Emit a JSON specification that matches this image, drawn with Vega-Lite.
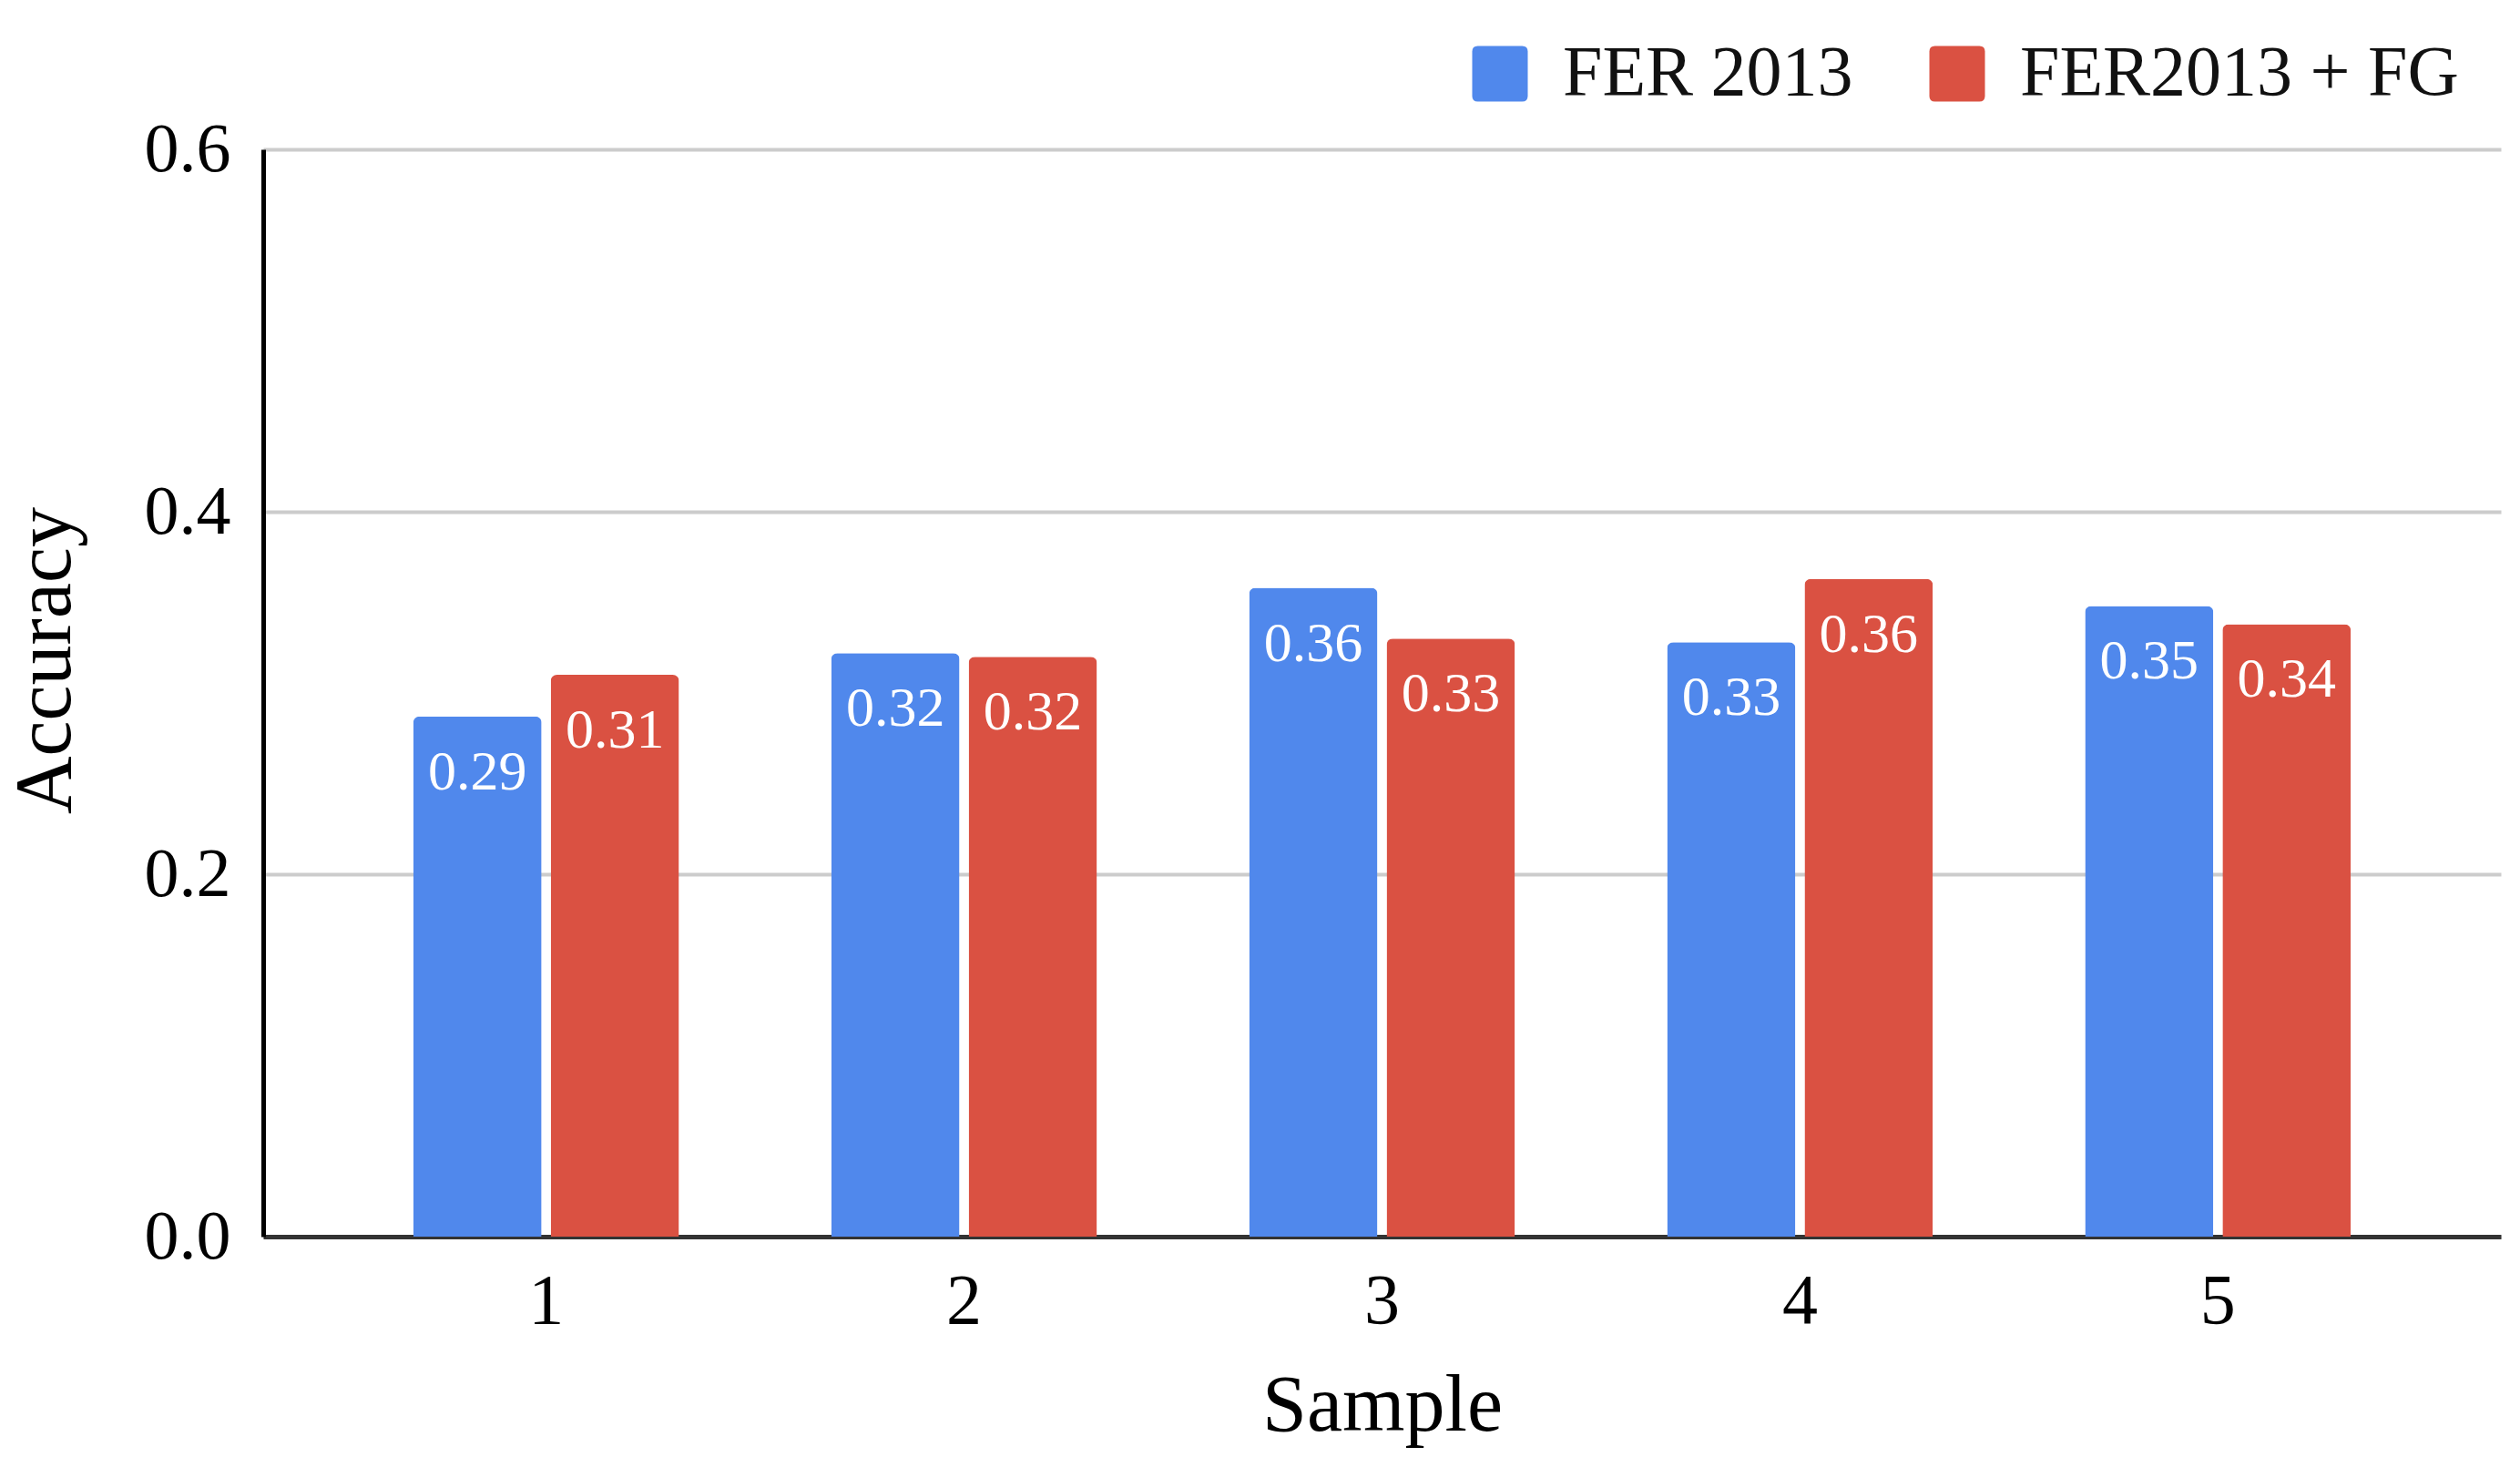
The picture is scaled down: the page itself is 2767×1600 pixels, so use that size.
{
  "$schema": "https://vega.github.io/schema/vega-lite/v6.json",
  "autosize": {"type": "none"},
  "padding": {"left": 289, "top": 164, "right": 21, "bottom": 242},
  "width": 2457,
  "height": 1194,
  "background": "white",
  "config": {
    "view": {"stroke": null},
    "font": "Liberation Serif"
  },
  "data": {
    "values": [
      {"sample": "1", "series": "FER 2013", "accuracy": 0.287},
      {"sample": "1", "series": "FER2013 + FG", "accuracy": 0.310},
      {"sample": "2", "series": "FER 2013", "accuracy": 0.322},
      {"sample": "2", "series": "FER2013 + FG", "accuracy": 0.320},
      {"sample": "3", "series": "FER 2013", "accuracy": 0.358},
      {"sample": "3", "series": "FER2013 + FG", "accuracy": 0.330},
      {"sample": "4", "series": "FER 2013", "accuracy": 0.328},
      {"sample": "4", "series": "FER2013 + FG", "accuracy": 0.363},
      {"sample": "5", "series": "FER 2013", "accuracy": 0.348},
      {"sample": "5", "series": "FER2013 + FG", "accuracy": 0.338}
    ]
  },
  "encoding": {
    "x": {
      "field": "sample",
      "type": "nominal",
      "title": "Sample",
      "scale": {"paddingInner": 0.364, "paddingOuter": 0.359},
      "axis": {
        "labelAngle": 0,
        "labelFont": "Liberation Serif",
        "labelFontSize": 78,
        "labelColor": "#000",
        "labelPadding": 32,
        "ticks": false,
        "domainColor": "#333",
        "domainWidth": 5,
        "titleFont": "Liberation Serif",
        "titleFontSize": 88,
        "titleFontWeight": "normal",
        "titleColor": "#000",
        "titlePadding": 32
      }
    },
    "xOffset": {
      "field": "series",
      "type": "nominal",
      "scale": {"paddingInner": 0.066, "paddingOuter": 0}
    },
    "y": {
      "field": "accuracy",
      "type": "quantitative",
      "title": "Accuracy",
      "scale": {"domain": [0, 0.6], "nice": false},
      "axis": {
        "values": [0, 0.2, 0.4, 0.6],
        "format": ".1f",
        "labelFont": "Liberation Serif",
        "labelFontSize": 76,
        "labelColor": "#000",
        "labelPadding": 36,
        "ticks": false,
        "domainColor": "#000",
        "domainWidth": 5,
        "gridColor": "#cccccc",
        "gridWidth": 4,
        "titleFont": "Liberation Serif",
        "titleFontSize": 88,
        "titleFontWeight": "normal",
        "titleColor": "#000",
        "titlePadding": 64,
        "titleY": 561
      }
    }
  },
  "layer": [
    {
      "mark": {"type": "bar", "cornerRadiusEnd": 7},
      "encoding": {
        "color": {
          "field": "series",
          "type": "nominal",
          "scale": {
            "domain": ["FER 2013", "FER2013 + FG"],
            "range": ["#5088EC", "#DA5142"]
          },
          "legend": {
            "title": null,
            "orient": "none",
            "direction": "horizontal",
            "legendX": 1319,
            "legendY": -122,
            "padding": 0,
            "symbolType": "M-0.8,-1H0.8Q1,-1,1,-0.8V0.8Q1,1,0.8,1H-0.8Q-1,1,-1,0.8V-0.8Q-1,-1,-0.8,-1Z",
            "symbolSize": 3721,
            "symbolStrokeWidth": 0,
            "symbolOpacity": 1,
            "labelFont": "Liberation Serif",
            "labelFontSize": 78,
            "labelColor": "#111",
            "labelOffset": 30,
            "labelLimit": 1000,
            "columnPadding": 75
          }
        }
      }
    },
    {
      "mark": {
        "type": "text",
        "color": "white",
        "font": "Liberation Serif",
        "fontSize": 62,
        "baseline": "alphabetic",
        "align": "center",
        "dy": 80
      },
      "encoding": {
        "text": {"field": "accuracy", "type": "quantitative", "format": ".2f"}
      }
    }
  ]
}
